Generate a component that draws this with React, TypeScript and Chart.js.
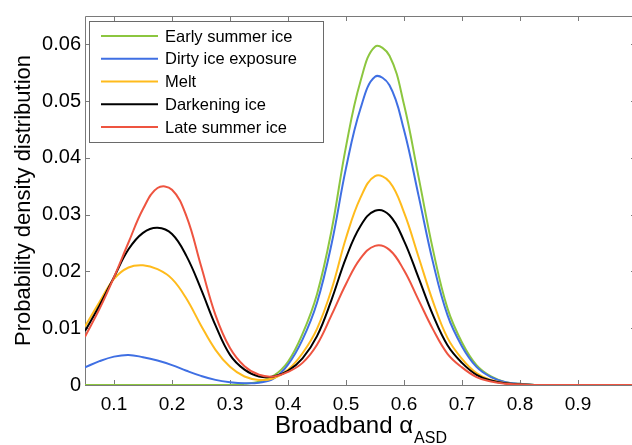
import React, { useEffect, useRef } from 'react';
import { Chart, registerables } from 'chart.js';

Chart.register(...registerables);

const xValues = [0.05, 0.075, 0.1, 0.125, 0.15, 0.175, 0.2, 0.225, 0.25, 0.275, 0.3, 0.325, 0.35, 0.375, 0.4, 0.425, 0.45, 0.475, 0.5, 0.525, 0.55, 0.575, 0.6, 0.625, 0.65, 0.675, 0.7, 0.725, 0.75, 0.775, 0.8, 0.825, 0.85, 0.875, 0.9, 0.925, 0.95, 0.975, 1.0];

const earlySummerIce = [0, 0, 0, 0, 0, 0, 0, 0, 0, 0, 0, 0.0002, 0.0006, 0.0016, 0.0041, 0.0090, 0.0160, 0.0272, 0.0420, 0.0535, 0.0596, 0.0580, 0.0494, 0.0367, 0.0238, 0.0135, 0.0075, 0.0035, 0.0015, 0.0005, 0.0002, 0, 0, 0, 0, 0, 0, 0, 0];
const dirtyIceExposure = [0.0031, 0.0042, 0.0050, 0.0053, 0.0049, 0.0043, 0.0035, 0.0025, 0.0016, 0.0009, 0.0005, 0.0003, 0.0004, 0.0011, 0.0036, 0.0080, 0.0145, 0.0248, 0.0382, 0.0487, 0.0543, 0.0528, 0.0449, 0.0334, 0.0216, 0.0123, 0.0068, 0.0032, 0.0014, 0.0005, 0.0002, 0, 0, 0, 0, 0, 0, 0, 0];
const melt = [0.0103, 0.0146, 0.0187, 0.0207, 0.0211, 0.0204, 0.0187, 0.0152, 0.0105, 0.0062, 0.0032, 0.0015, 0.0009, 0.0012, 0.0027, 0.0056, 0.0099, 0.0168, 0.0259, 0.0330, 0.0368, 0.0358, 0.0304, 0.0226, 0.0147, 0.0083, 0.0046, 0.0021, 0.0009, 0.0003, 0.0001, 0, 0, 0, 0, 0, 0, 0, 0];
const darkeningIce = [0.0095, 0.0140, 0.0190, 0.0239, 0.0268, 0.0277, 0.0266, 0.0227, 0.0169, 0.0105, 0.0053, 0.0027, 0.0015, 0.0015, 0.0025, 0.0047, 0.0086, 0.0150, 0.0224, 0.0280, 0.0307, 0.0299, 0.0254, 0.0189, 0.0123, 0.0070, 0.0039, 0.0018, 0.0008, 0.0003, 0.0001, 0, 0, 0, 0, 0, 0, 0, 0];
const lateSummerIce = [0.0085, 0.0134, 0.0190, 0.0251, 0.0310, 0.0347, 0.0344, 0.0297, 0.0210, 0.0123, 0.0065, 0.0033, 0.0018, 0.0015, 0.0023, 0.0039, 0.0071, 0.0123, 0.0178, 0.0223, 0.0245, 0.0238, 0.0202, 0.0150, 0.0098, 0.0055, 0.0031, 0.0014, 0.0006, 0.0002, 0.0001, 0, 0, 0, 0, 0, 0, 0, 0];

const seriesLabels = ['Early summer ice', 'Dirty ice exposure', 'Melt', 'Darkening ice', 'Late summer ice'];
const seriesValues = [earlySummerIce, dirtyIceExposure, melt, darkeningIce, lateSummerIce];
const seriesColors = ['#8CC63F', '#3F6FE3', '#FFBB1C', '#000000', '#EE5440'];

const xTicks = [0.1, 0.2, 0.3, 0.4, 0.5, 0.6, 0.7, 0.8, 0.9];
const yTicks = [0, 0.01, 0.02, 0.03, 0.04, 0.05, 0.06];

const xTitleMain = 'Broadband α';
const xTitleSub = 'ASD';
const yTitle = 'Probability density distribution';

const FONT = '"Liberation Sans", Arial, Helvetica, sans-serif';
const FRAME_COLOR = '#7a7a7a';

const framePlugin = {
  id: 'frameTicks',
  beforeDatasetsDraw(chart: any) {
    const { ctx, chartArea: a, scales } = chart;
    const tl = 5;
    ctx.save();
    ctx.strokeStyle = FRAME_COLOR;
    ctx.lineWidth = 1;
    ctx.beginPath();
    ctx.rect(a.left + 0.5, a.top + 0.5, a.right - a.left, a.bottom - a.top);
    for (const v of xTicks) {
      const px = Math.round(scales.x.getPixelForValue(v)) + 0.5;
      ctx.moveTo(px, a.bottom);
      ctx.lineTo(px, a.bottom - tl);
      ctx.moveTo(px, a.top);
      ctx.lineTo(px, a.top + tl);
    }
    for (const v of yTicks) {
      const py = Math.round(scales.y.getPixelForValue(v)) + 0.5;
      ctx.moveTo(a.left, py);
      ctx.lineTo(a.left + tl, py);
      ctx.moveTo(a.right, py);
      ctx.lineTo(a.right - tl, py);
    }
    ctx.stroke();
    ctx.restore();
  },
};

const titlesPlugin = {
  id: 'axisTitles',
  afterDraw(chart: any) {
    const { ctx, chartArea: a } = chart;
    ctx.save();
    ctx.fillStyle = '#000';
    // x title with subscript
    ctx.font = `24px ${FONT}`;
    const w1 = ctx.measureText(xTitleMain).width;
    ctx.font = `16px ${FONT}`;
    const w2 = ctx.measureText(xTitleSub).width;
    const cx = (a.left + a.right) / 2;
    const startX = cx - (w1 + w2) / 2;
    ctx.textAlign = 'left';
    ctx.textBaseline = 'alphabetic';
    ctx.font = `24px ${FONT}`;
    ctx.fillText(xTitleMain, startX, 433);
    ctx.font = `16px ${FONT}`;
    ctx.fillText(xTitleSub, startX + w1 + 1, 443);
    // y title rotated
    ctx.font = `22px ${FONT}`;
    ctx.translate(30, (a.top + a.bottom) / 2);
    ctx.rotate(-Math.PI / 2);
    ctx.textAlign = 'center';
    ctx.fillText(yTitle, 0, 0);
    ctx.restore();
  },
};

const legendPlugin = {
  id: 'boxLegend',
  afterDatasetsDraw(chart: any) {
    const { ctx, chartArea: a } = chart;
    const left = a.left + 4;
    const top = a.top + 5;
    const width = 234;
    const height = 121;
    ctx.save();
    ctx.fillStyle = '#ffffff';
    ctx.fillRect(left, top, width, height);
    ctx.strokeStyle = '#6a6a6a';
    ctx.lineWidth = 1;
    ctx.strokeRect(left + 0.5, top + 0.5, width, height);
    ctx.font = `16.5px ${FONT}`;
    ctx.textBaseline = 'middle';
    ctx.textAlign = 'left';
    chart.data.datasets.forEach((ds: any, i: number) => {
      const y = top + 15 + i * 22.75;
      ctx.strokeStyle = ds.borderColor;
      ctx.lineWidth = 2;
      ctx.beginPath();
      ctx.moveTo(left + 12, y);
      ctx.lineTo(left + 69, y);
      ctx.stroke();
      ctx.fillStyle = '#000';
      ctx.fillText(ds.label, left + 76, y + 1);
    });
    ctx.restore();
  },
};

export default function App() {
  const canvasRef = useRef<HTMLCanvasElement | null>(null);

  useEffect(() => {
    const canvas = canvasRef.current;
    if (!canvas) return;
    const datasets = seriesLabels.map((label, i) => ({
      label,
      data: xValues.map((x, j) => ({ x, y: seriesValues[i][j] })),
      borderColor: seriesColors[i],
      backgroundColor: seriesColors[i],
      borderWidth: 2,
      pointRadius: 0,
      tension: 0.4,
      fill: false,
      order: seriesLabels.length - i,
    }));
    const chart = new Chart(canvas, {
      type: 'line',
      data: { datasets },
      options: {
        responsive: false,
        animation: false,
        devicePixelRatio: 1,
        layout: { padding: { top: 13, right: 4, left: 0, bottom: 0 } },
        plugins: { legend: { display: false }, tooltip: { enabled: false } },
        scales: {
          x: {
            type: 'linear',
            min: 0.05,
            max: 1.0,
            afterBuildTicks: (s: any) => {
              s.ticks = xTicks.map((v) => ({ value: v }));
            },
            afterFit: (s: any) => {
              s.height = 60;
            },
            grid: { display: false, drawTicks: false, tickLength: 0 },
            border: { display: false },
            ticks: {
              color: '#000',
              padding: 8,
              maxRotation: 0,
              autoSkip: false,
              font: { family: FONT, size: 19 },
              callback: (v: any) => Number(v).toFixed(1),
            },
          },
          y: {
            type: 'linear',
            min: 0,
            max: 0.065,
            afterBuildTicks: (s: any) => {
              s.ticks = yTicks.map((v) => ({ value: v }));
            },
            afterFit: (s: any) => {
              s.width = 85;
            },
            grid: { display: false, drawTicks: false, tickLength: 0 },
            border: { display: false },
            ticks: {
              color: '#000',
              padding: 4,
              autoSkip: false,
              font: { family: FONT, size: 20 },
              callback: (v: any) => (Number(v) === 0 ? '0' : Number(v).toFixed(2)),
            },
          },
        },
      },
      plugins: [framePlugin, legendPlugin, titlesPlugin],
    } as any);
    return () => chart.destroy();
  }, []);

  return (
    <div style={{ position: 'fixed', left: 0, top: 0, width: 632, height: 445, overflow: 'hidden', background: '#fff' }}>
      <canvas ref={canvasRef} width={640} height={445} style={{ width: 640, height: 445, display: 'block' }} />
    </div>
  );
}
